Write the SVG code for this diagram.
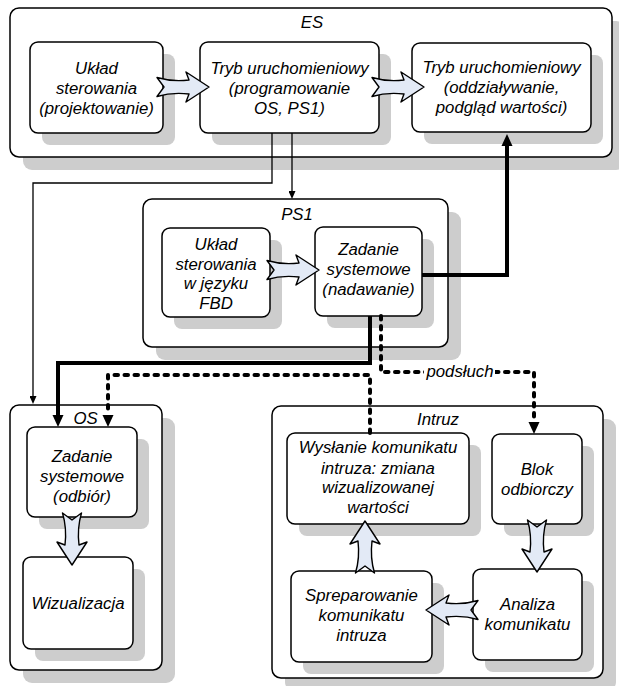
<svg xmlns="http://www.w3.org/2000/svg" width="619" height="686" viewBox="0 0 619 686">
  <defs>
    <style>
      .shadow{fill:#cdcdcd}
      .box{fill:#fff;stroke:#000;stroke-width:1.5}
      .t{font-family:"Liberation Sans",Arial,sans-serif;font-style:italic;font-size:16.8px;fill:#000;text-anchor:middle}
      .flow{fill:#e3eaf6;stroke:#000;stroke-width:1.4;stroke-linejoin:round}
      .thin{fill:none;stroke:#000;stroke-width:1.3}
      .thick{fill:none;stroke:#000;stroke-width:4;stroke-linejoin:miter}
      .dash{fill:none;stroke:#000;stroke-width:4;stroke-dasharray:3.5 6.5;stroke-linecap:round}
    </style>
    <!-- fat hollow flow arrow, tail at origin, pointing +x -->
    <path id="blk" d="M0,-9.5 Q15,-5 32,-7 L29,-15 L52,0 L29,15 L32,7 Q15,5 0,9.5 L7,0 Z"/>
    <marker id="ahThin" markerUnits="userSpaceOnUse" markerWidth="8" markerHeight="7" viewBox="0 0 8 7" refX="0" refY="3.5" orient="auto">
      <path d="M0,0 L8,3.5 L0,7 Z" fill="#000"/>
    </marker>
    <marker id="ahThick" markerUnits="userSpaceOnUse" markerWidth="12" markerHeight="12" viewBox="0 0 12 12" refX="0" refY="6" orient="auto">
      <path d="M0,0.5 L12,6 L0,11.5 Z" fill="#000"/>
    </marker>
  </defs>

  <!-- ES container -->
  <g id="es">
    <rect class="shadow" x="23" y="21" width="602" height="149" rx="9"/>
    <rect class="box" x="10" y="8" width="602" height="149" rx="9"/>
    <text class="t" x="312" y="28">ES</text>
  </g>
  <g id="es-design">
    <rect class="shadow" x="42" y="54" width="133" height="91" rx="8"/>
    <rect class="box" x="30" y="42" width="133" height="91" rx="8"/>
    <text class="t" x="96.5" y="74">Układ</text>
    <text class="t" x="96.5" y="94">sterowania</text>
    <text class="t" x="96.5" y="114">(projektowanie)</text>
  </g>
  <g id="es-program">
    <rect class="shadow" x="212" y="54" width="179" height="91" rx="8"/>
    <rect class="box" x="200" y="42" width="179" height="91" rx="8"/>
    <text class="t" x="289.5" y="74">Tryb uruchomieniowy</text>
    <text class="t" x="289.5" y="94">(programowanie</text>
    <text class="t" x="289.5" y="114">OS, PS1)</text>
  </g>
  <g id="es-runtime">
    <rect class="shadow" x="424" y="55" width="179" height="89" rx="8"/>
    <rect class="box" x="412" y="43" width="179" height="89" rx="8"/>
    <text class="t" x="501.5" y="73">Tryb uruchomieniowy</text>
    <text class="t" x="501.5" y="93">(oddziaływanie,</text>
    <text class="t" x="501.5" y="113">podgląd wartości)</text>
  </g>

  <!-- PS1 container -->
  <g id="ps1">
    <rect class="shadow" x="156" y="212" width="305" height="148" rx="9"/>
    <rect class="box" x="143" y="199" width="305" height="148" rx="9"/>
    <text class="t" x="297" y="220">PS1</text>
  </g>
  <g id="ps1-fbd">
    <rect class="shadow" x="174" y="240" width="108" height="89" rx="8"/>
    <rect class="box" x="162" y="228" width="108" height="89" rx="8"/>
    <text class="t" x="216" y="250">Układ</text>
    <text class="t" x="216" y="269.5">sterowania</text>
    <text class="t" x="216" y="289">w języku</text>
    <text class="t" x="216" y="308.5">FBD</text>
  </g>
  <g id="ps1-send">
    <rect class="shadow" x="327" y="239" width="107" height="89" rx="8"/>
    <rect class="box" x="315" y="227" width="107" height="89" rx="8"/>
    <text class="t" x="368.5" y="255">Zadanie</text>
    <text class="t" x="368.5" y="275">systemowe</text>
    <text class="t" x="368.5" y="295">(nadawanie)</text>
  </g>

  <!-- OS container -->
  <g id="os">
    <rect class="shadow" x="23" y="418" width="152" height="265" rx="9"/>
    <rect class="box" x="10" y="405" width="152" height="265" rx="9"/>
    <text class="t" x="85.5" y="424">OS</text>
  </g>
  <g id="os-receive">
    <rect class="shadow" x="39" y="439" width="110" height="90" rx="8"/>
    <rect class="box" x="27" y="427" width="110" height="90" rx="8"/>
    <text class="t" x="82" y="462">Zadanie</text>
    <text class="t" x="82" y="482">systemowe</text>
    <text class="t" x="82" y="502">(odbiór)</text>
  </g>
  <g id="os-visual">
    <rect class="shadow" x="35" y="569" width="110" height="92" rx="8"/>
    <rect class="box" x="23" y="557" width="110" height="92" rx="8"/>
    <text class="t" x="78" y="609">Wizualizacja</text>
  </g>

  <!-- Intruder container -->
  <g id="intruz">
    <rect class="shadow" x="285" y="419" width="331" height="272" rx="9"/>
    <rect class="box" x="272" y="406" width="331" height="272" rx="9"/>
    <text class="t" x="438" y="425">Intruz</text>
  </g>
  <g id="intruz-send">
    <rect class="shadow" x="299" y="445" width="182" height="91" rx="8"/>
    <rect class="box" x="287" y="433" width="182" height="91" rx="8"/>
    <text class="t" x="378" y="453">Wysłanie komunikatu</text>
    <text class="t" x="378" y="473.5">intruza: zmiana</text>
    <text class="t" x="378" y="493">wizualizowanej</text>
    <text class="t" x="378" y="513">wartości</text>
  </g>
  <g id="intruz-receive">
    <rect class="shadow" x="504" y="446" width="90" height="90" rx="8"/>
    <rect class="box" x="492" y="434" width="90" height="90" rx="8"/>
    <text class="t" x="537" y="475">Blok</text>
    <text class="t" x="537" y="495">odbiorczy</text>
  </g>
  <g id="intruz-craft">
    <rect class="shadow" x="303" y="583" width="141" height="91" rx="8"/>
    <rect class="box" x="291" y="571" width="141" height="91" rx="8"/>
    <text class="t" x="361.5" y="601">Spreparowanie</text>
    <text class="t" x="361.5" y="621">komunikatu</text>
    <text class="t" x="361.5" y="641">intruza</text>
  </g>
  <g id="intruz-analyse">
    <rect class="shadow" x="485" y="581" width="109" height="91" rx="8"/>
    <rect class="box" x="473" y="569" width="109" height="91" rx="8"/>
    <text class="t" x="527.5" y="610">Analiza</text>
    <text class="t" x="527.5" y="630">komunikatu</text>
  </g>

  <!-- connectors -->
  <g id="connectors">
    <!-- flow arrows inside containers -->
    <use href="#blk" class="flow" transform="translate(157,87)"/>
    <use href="#blk" class="flow" transform="translate(372,87)"/>
    <use href="#blk" class="flow" transform="translate(267,270)"/>
    <use href="#blk" class="flow" transform="translate(72,513) rotate(90)"/>
    <use href="#blk" class="flow" transform="translate(365,573) rotate(-90)"/>
    <use href="#blk" class="flow" transform="translate(537,520) rotate(90)"/>
    <use href="#blk" class="flow" transform="translate(478,610) rotate(180)"/>

    <!-- programming links -->
    <path class="thin" d="M272,133 V183 H33 V396" marker-end="url(#ahThin)"/>
    <path class="thin" d="M292,133 V191" marker-end="url(#ahThin)"/>

    <!-- message paths -->
    <path class="thick" d="M422,275 H507 V146" marker-end="url(#ahThick)"/>
    <path class="thick" d="M370,316 V363 H58 V415" marker-end="url(#ahThick)"/>
    <path class="dash" d="M381,316 V372 H534 V422" marker-end="url(#ahThick)"/>
    <path class="dash" d="M370,433 V375 H108 V415" marker-end="url(#ahThick)"/>

    <rect x="424" y="362" width="71" height="19" fill="#fff"/>
    <text class="t" x="460" y="377">podsłuch</text>
  </g>
</svg>
